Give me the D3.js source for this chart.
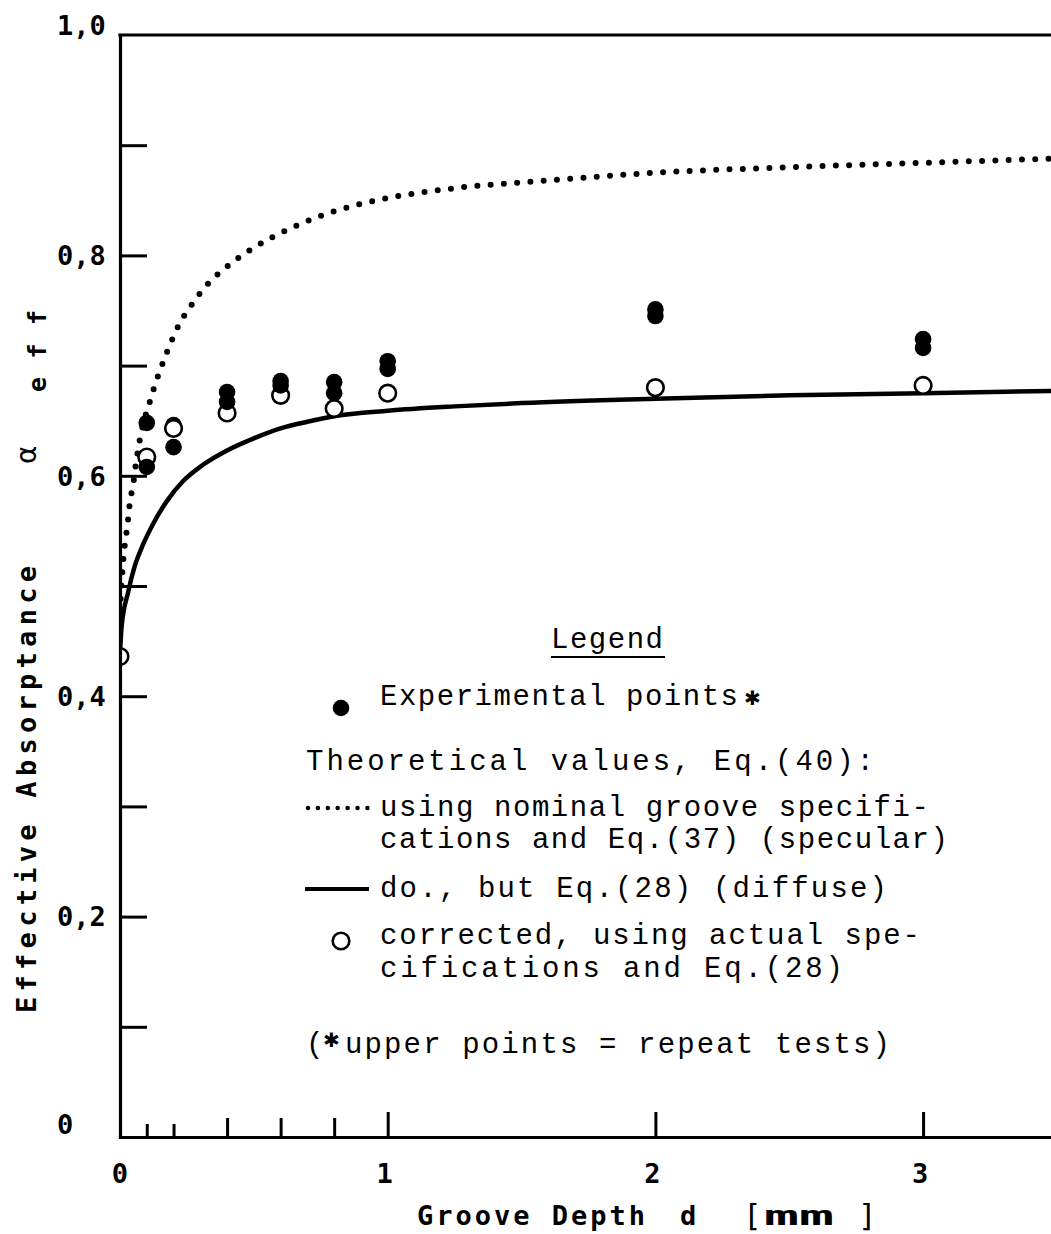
<!DOCTYPE html>
<html>
<head>
<meta charset="utf-8">
<script src="https://cdn.jsdelivr.net/npm/d3@7"></script>
<style>
  body { margin: 0; background: #fff; }
  svg { display: block; }
</style>
</head>
<body>
<script>
// Experimental points: first test and repeat test (repeat = upper point)
const expDepths = [0.1, 0.2, 0.4, 0.6, 0.8, 1, 2, 3];
const expFirst  = [0.608, 0.626, 0.667, 0.682, 0.675, 0.697, 0.745, 0.716];
const expRepeat = [0.648, 0.646, 0.676, 0.686, 0.685, 0.704, 0.751, 0.724];

// Corrected theoretical values (actual specifications, Eq. 28)
const corrDepths = [0, 0.1, 0.2, 0.4, 0.6, 0.8, 1, 2, 3];
const corrValues = [0.436, 0.617, 0.643, 0.657, 0.673, 0.661, 0.675, 0.680, 0.682];

// Theoretical curve: nominal groove specifications, Eq. 37 (specular)
const specDepths = [0, 0.002, 0.008, 0.015, 0.022, 0.03, 0.038, 0.048, 0.06, 0.075, 0.09, 0.11, 0.13, 0.15, 0.18, 0.22, 0.27, 0.32, 0.4, 0.5, 0.65, 0.8, 1.0, 1.25, 1.6, 2.0, 2.5, 3.0, 3.5];
const specValues = [0.44, 0.485, 0.51, 0.531, 0.544, 0.56, 0.578, 0.59, 0.612, 0.634, 0.65, 0.666, 0.682, 0.696, 0.715, 0.737, 0.756, 0.772, 0.79, 0.807, 0.826, 0.84, 0.852, 0.861, 0.868, 0.875, 0.880, 0.884, 0.888];

// Theoretical curve: nominal specifications, Eq. 28 (diffuse)
const diffDepths = [0, 0.006, 0.03, 0.055, 0.085, 0.125, 0.175, 0.235, 0.31, 0.4, 0.5, 0.6, 0.7, 0.8, 1.0, 1.25, 1.5, 2.0, 2.5, 3.0, 3.5];
const diffValues = [0.44, 0.463, 0.494, 0.518, 0.537, 0.557, 0.577, 0.595, 0.61, 0.623, 0.634, 0.643, 0.649, 0.654, 0.659, 0.663, 0.666, 0.670, 0.673, 0.675, 0.677];

// Axis ticks and labels
const yTickValues = [0.1, 0.2, 0.3, 0.4, 0.5, 0.6, 0.7, 0.8, 0.9];
const yLabelValues = [0, 0.2, 0.4, 0.6, 0.8, 1.0];
const yLabels = ["0", "0,2", "0,4", "0,6", "0,8", "1,0"];
const xShortTicks = [0.1, 0.2];
const xMidTicks = [0.4, 0.6, 0.8];
const xLongTicks = [1, 2, 3];
const xLabelValues = [0, 1, 2, 3];
const xLabels = ["0", "1", "2", "3"];

// Legend wording
const legendTitle = "Legend";
const legendLines = [
  "Experimental points",
  "Theoretical values, Eq.(40):",
  "using nominal groove specifi-",
  "cations and Eq.(37) (specular)",
  "do., but Eq.(28) (diffuse)",
  "corrected, using actual spe-",
  "cifications and Eq.(28)",
  "upper points = repeat tests)"
];

const W = 1051, H = 1234;
const svg = d3.select("body").append("svg")
  .attr("width", W).attr("height", H)
  .attr("viewBox", `0 0 ${W} ${H}`);
svg.append("rect").attr("width", W).attr("height", H).attr("fill", "#fff");

const x = d3.scaleLinear().domain([0, 3.5]).range([120, 120 + 3.5 * 267.7]);
const y = d3.scaleLinear().domain([0, 1]).range([1137, 35]);

const labelFont = "'DejaVu Sans Mono', monospace";
const legendFont = "'Liberation Mono', 'DejaVu Sans Mono', monospace";

// plotting area clip: marks stop at the axes
svg.append("defs").append("clipPath").attr("id", "plotClip")
  .append("rect").attr("x", x(0)).attr("y", 0).attr("width", W - x(0)).attr("height", y(0));

const plot = svg.append("g").attr("clip-path", "url(#plotClip)");

// diffuse curve (solid)
plot.append("path")
  .datum(diffDepths.map((d, i) => [d, diffValues[i]]))
  .attr("fill", "none").attr("stroke", "#000").attr("stroke-width", 4.5)
  .attr("d", d3.line().x(d => x(d[0])).y(d => y(d[1])).curve(d3.curveMonotoneX));

// specular curve (dotted)
plot.append("path")
  .datum(specDepths.map((d, i) => [d, specValues[i]]))
  .attr("fill", "none").attr("stroke", "#000").attr("stroke-width", 6)
  .attr("stroke-linecap", "round").attr("stroke-dasharray", "0 13.3")
  .attr("d", d3.line().x(d => x(d[0])).y(d => y(d[1])).curve(d3.curveMonotoneX));

const R = 8.3;
// repeat tests (upper filled points)
plot.selectAll("circle.rep").data(expDepths).join("circle").attr("class", "rep")
  .attr("cx", d => x(d)).attr("cy", (d, i) => y(expRepeat[i])).attr("r", R).attr("fill", "#000");
// corrected values (open circles)
plot.selectAll("circle.corr").data(corrDepths).join("circle").attr("class", "corr")
  .attr("cx", d => x(d)).attr("cy", (d, i) => y(corrValues[i])).attr("r", R)
  .attr("fill", "#fff").attr("stroke", "#000").attr("stroke-width", 2.6);
// first tests (lower filled points)
plot.selectAll("circle.first").data(expDepths).join("circle").attr("class", "first")
  .attr("cx", d => x(d)).attr("cy", (d, i) => y(expFirst[i])).attr("r", R).attr("fill", "#000");

// y axis with inward ticks
const yAxis = svg.append("g").attr("transform", `translate(${x(0)},0)`)
  .call(d3.axisRight(y).tickValues(yTickValues).tickSize(27).tickSizeOuter(0).tickFormat(""));
yAxis.select(".domain").attr("stroke-width", 3.2).attr("stroke-linecap", "square");
yAxis.selectAll(".tick line").attr("stroke-width", 3);

// x axis with upward ticks of three lengths
function xTicks(values, len) {
  const g = svg.append("g").attr("transform", `translate(0,${y(0)})`)
    .call(d3.axisTop(x).tickValues(values).tickSize(len).tickSizeOuter(0).tickFormat(""));
  g.selectAll(".tick line").attr("stroke-width", 3);
  return g;
}
const xAxis = xTicks(xLongTicks, 25);
xAxis.select(".domain").attr("stroke-width", 3.2).attr("stroke-linecap", "square");
xTicks(xMidTicks, 19).select(".domain").remove();
xTicks(xShortTicks, 13).select(".domain").remove();

// top frame line
svg.append("line")
  .attr("x1", x(0)).attr("x2", x(3.5)).attr("y1", y(1)).attr("y2", y(1))
  .attr("stroke", "#000").attr("stroke-width", 3.2).attr("stroke-linecap", "square");

// y tick labels (left aligned column)
svg.selectAll("text.ylab").data(yLabelValues).join("text").attr("class", "ylab")
  .attr("x", 57)
  .attr("y", (d, i) => y(d) + (d === 0 ? -13 : d === 1 ? -10 : 0))
  .attr("dy", "0.36em")
  .attr("font-family", labelFont).attr("font-weight", "bold").attr("font-size", 27)
  .text((d, i) => yLabels[i]);

// x tick labels
svg.selectAll("text.xlab").data(xLabelValues).join("text").attr("class", "xlab")
  .attr("x", d => x(d) - (d === 0 ? 0 : 3))
  .attr("y", 1173).attr("dy", "0.36em").attr("text-anchor", "middle")
  .attr("font-family", labelFont).attr("font-weight", "bold").attr("font-size", 27)
  .text((d, i) => xLabels[i]);

// x axis title
const xt = svg.append("g").attr("font-family", labelFont).attr("font-weight", "bold").attr("font-size", 27);
xt.append("text").attr("x", 417).attr("y", 1225).attr("textLength", 228).attr("lengthAdjust", "spacing").text("Groove Depth");
xt.append("text").attr("x", 680).attr("y", 1225).text("d");
xt.append("text").attr("x", 743).attr("y", 1226).attr("font-weight", "normal").attr("font-size", 31).text("[");
xt.append("text").attr("x", 764).attr("y", 1225).attr("textLength", 70).attr("lengthAdjust", "spacingAndGlyphs").text("mm");
xt.append("text").attr("x", 858).attr("y", 1226).attr("font-weight", "normal").attr("font-size", 31).text("]");

// y axis title, rotated
const yt = svg.append("g").attr("font-family", labelFont).attr("font-weight", "bold");
yt.append("text").attr("transform", "translate(36,1013) rotate(-90)")
  .attr("font-size", 27).attr("textLength", 447).attr("lengthAdjust", "spacing")
  .text("Effective Absorptance");
yt.append("text").attr("transform", "translate(36,464) rotate(-90)")
  .attr("font-family", "'DejaVu Sans', sans-serif").attr("font-weight", "normal")
  .attr("font-size", 28).text("α");
yt.append("text").attr("transform", "translate(46,392) rotate(-90)")
  .attr("font-size", 25).attr("textLength", 82).attr("lengthAdjust", "spacing")
  .text("eff");

// legend
const lg = svg.append("g").attr("font-family", legendFont).attr("font-size", 29).attr("fill", "#000");
lg.append("text").attr("x", 551).attr("y", 648).attr("textLength", 112).attr("lengthAdjust", "spacing").text(legendTitle);
lg.append("line").attr("x1", 551).attr("x2", 665).attr("y1", 657).attr("y2", 657)
  .attr("stroke", "#000").attr("stroke-width", 2.2);

const lineLayout = [
  { x: 380, y: 705, len: 358 },
  { x: 306, y: 770, len: 568 },
  { x: 380, y: 816, len: 549 },
  { x: 380, y: 848, len: 568 },
  { x: 380, y: 897, len: 507 },
  { x: 380, y: 944, len: 540 },
  { x: 380, y: 977, len: 463 },
  { x: 345, y: 1053, len: 545 }
];
lg.selectAll("text.entry").data(legendLines).join("text").attr("class", "entry")
  .attr("x", (d, i) => lineLayout[i].x).attr("y", (d, i) => lineLayout[i].y)
  .attr("textLength", (d, i) => lineLayout[i].len).attr("lengthAdjust", "spacing")
  .text(d => d);

// opening parenthesis and asterisks of the footnote lines
lg.append("text").attr("x", 306).attr("y", 1053).text("(");
const star = svg.append("g").attr("font-family", "'DejaVu Sans', sans-serif").attr("font-size", 20).attr("font-weight", "bold");
star.append("text").attr("x", 744).attr("y", 705).text("✱");
star.append("text").attr("x", 323).attr("y", 1047).text("✱");

// legend symbols
lg.append("circle").attr("cx", 341).attr("cy", 708).attr("r", R).attr("fill", "#000");
lg.append("line").attr("x1", 308).attr("x2", 368).attr("y1", 808).attr("y2", 808)
  .attr("stroke", "#000").attr("stroke-width", 4.5).attr("stroke-linecap", "round")
  .attr("stroke-dasharray", "0 9.9");
lg.append("line").attr("x1", 305).attr("x2", 369).attr("y1", 889).attr("y2", 889)
  .attr("stroke", "#000").attr("stroke-width", 4.2);
lg.append("circle").attr("cx", 341).attr("cy", 941).attr("r", R)
  .attr("fill", "#fff").attr("stroke", "#000").attr("stroke-width", 2.6);
</script>
</body>
</html>
